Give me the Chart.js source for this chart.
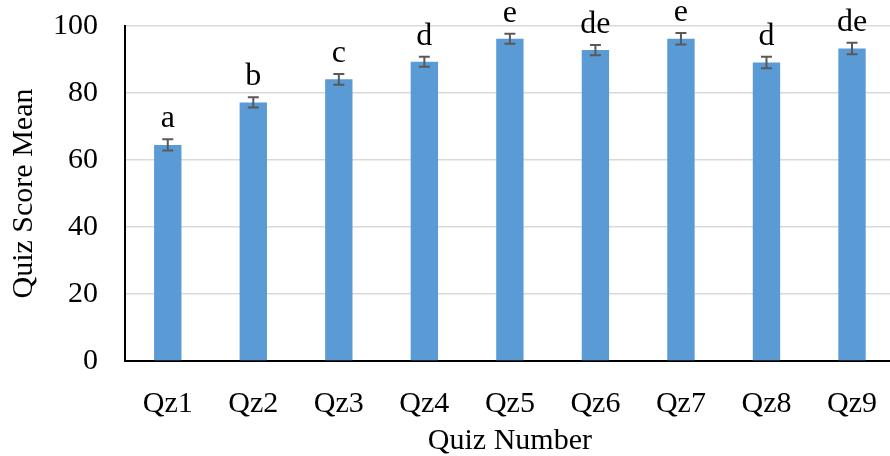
<!DOCTYPE html>
<html>
<head>
<meta charset="utf-8">
<script src="https://cdn.jsdelivr.net/npm/chart.js@4"></script>
<style>
  html, body { margin: 0; padding: 0; background: #fff; overflow: hidden; }
  #wrap { width: 905px; height: 456px; }
</style>
</head>
<body>
<div id="wrap"><canvas id="quizChart" width="905" height="456"></canvas></div>
<script>
const categories = ['Qz1', 'Qz2', 'Qz3', 'Qz4', 'Qz5', 'Qz6', 'Qz7', 'Qz8', 'Qz9'];
const means = [64.5, 77.2, 84.1, 89.3, 96.2, 92.8, 96.2, 89.1, 93.3];
const errors = [1.7, 1.5, 1.6, 1.5, 1.5, 1.5, 1.7, 1.7, 1.7];
const letters = ['a', 'b', 'c', 'd', 'e', 'de', 'e', 'd', 'de'];
const yTicks = [0, 20, 40, 60, 80, 100];

const serif = "'Liberation Serif', 'Times New Roman', serif";

// error bars + significance letters
const errorBarPlugin = {
  id: 'errorBars',
  afterDatasetsDraw(chart) {
    const ctx = chart.ctx;
    const y = chart.scales.y;
    const meta = chart.getDatasetMeta(0);
    ctx.save();
    meta.data.forEach((bar, i) => {
      const top = y.getPixelForValue(means[i] + errors[i]);
      const bot = y.getPixelForValue(means[i] - errors[i]);
      const x = bar.x;
      ctx.strokeStyle = '#595959';
      ctx.lineWidth = 2;
      ctx.beginPath();
      ctx.moveTo(x, top); ctx.lineTo(x, bot);
      ctx.moveTo(x - 5.5, top); ctx.lineTo(x + 5.5, top);
      ctx.moveTo(x - 5.5, bot); ctx.lineTo(x + 5.5, bot);
      ctx.stroke();

      ctx.fillStyle = '#000';
      ctx.font = '32px ' + serif;
      ctx.textAlign = 'center';
      ctx.textBaseline = 'alphabetic';
      ctx.fillText(letters[i], x, top - 12);
    });
    ctx.restore();
  }
};

new Chart(document.getElementById('quizChart').getContext('2d'), {
  type: 'bar',
  data: {
    labels: categories,
    datasets: [{
      data: means,
      backgroundColor: '#5B9BD5',
      categoryPercentage: 1,
      barPercentage: 0.32
    }]
  },
  options: {
    responsive: false,
    animation: false,
    layout: { padding: 0 },
    plugins: {
      legend: { display: false },
      tooltip: { enabled: false }
    },
    scales: {
      x: {
        grid: { display: false, drawTicks: false },
        border: { display: true, color: '#000', width: 2 },
        ticks: { color: '#000', font: { family: serif, size: 30, lineHeight: 1 }, padding: 28 },
        title: { display: true, text: 'Quiz Number', color: '#000', font: { family: serif, size: 30, lineHeight: 1 }, padding: { top: 8, bottom: 0 } },
        afterFit(scale) { scale.height = 95; }
      },
      y: {
        min: 0,
        max: 100,
        afterBuildTicks(axis) { axis.ticks = yTicks.map(v => ({ value: v })); },
        grid: { color: '#D9D9D9', lineWidth: 1.5, drawTicks: false },
        border: { display: true, color: '#000', width: 2 },
        ticks: { color: '#000', font: { family: serif, size: 30, lineHeight: 1 }, padding: 27 },
        title: { display: true, text: 'Quiz Score Mean', color: '#000', font: { family: serif, size: 30, lineHeight: 1 }, padding: { top: 9, bottom: 2 } },
        afterFit(scale) {
          scale.width = 125;
          scale.paddingTop = 26;
          scale.paddingBottom = 0;
        }
      }
    }
  },
  plugins: [errorBarPlugin]
});
</script>
</body>
</html>
